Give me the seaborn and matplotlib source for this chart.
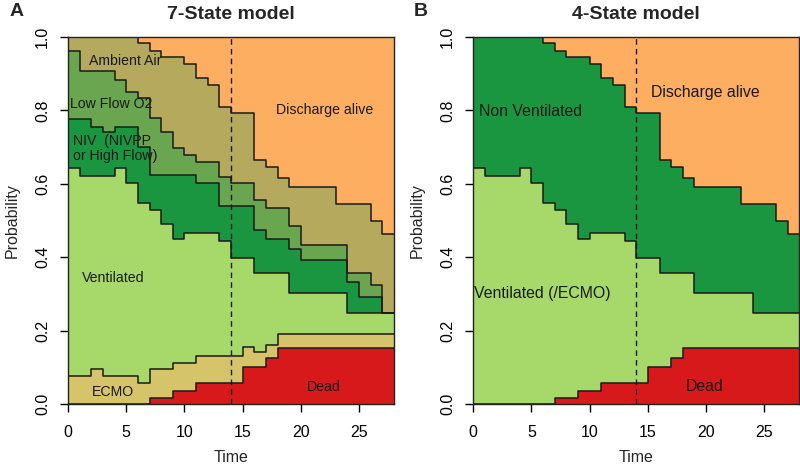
import numpy as np
import matplotlib
matplotlib.use("Agg")
import matplotlib.pyplot as plt
import seaborn as sns

# state occupation probabilities, one value per day 0..27 (step functions)
days = list(range(29))
dead = [0, 0, 0, 0, 0, 0, 0, .016, .016, .035, .035, .057, .057, .057, .057,
        .100, .100, .125, .152, .152, .152, .152, .152, .152, .152, .152, .152, .152]
ecmo = [.077, .077, .095, .077, .077, .077, .056, .079, .079, .078, .078, .075, .075, .075, .075,
        .056, .041, .036, .038, .038, .038, .038, .038, .038, .038, .038, .038, .038]
ventilated = [.565, .545, .527, .545, .565, .526, .492, .434, .395, .337, .354, .335, .333, .312, .266,
              .242, .216, .196, .167, .113, .113, .113, .113, .113, .058, .058, .058, .058]
niv = [.134, .154, .134, .118, .114, .153, .152, .095, .134, .174, .157, .134, .136, .096, .142,
       .142, .117, .093, .093, .118, .089, .089, .089, .089, .085, .044, .044, 0]
low_flow = [.187, .132, .152, .168, .127, .095, .133, .154, .116, .073, .054, .059, .059, .079, .061,
            .061, .082, .085, .085, .064, .041, .041, .041, .041, .023, .064, .032, 0]
ambient = [.037, .092, .092, .092, .117, .149, .151, .185, .206, .249, .248, .229, .209, .191, .191,
           .191, .108, .110, .081, .105, .157, .157, .157, .112, .189, .189, .176, .215]
discharge = [0, 0, 0, 0, 0, 0, .016, .037, .054, .054, .074, .111, .131, .190, .208,
             .208, .336, .355, .384, .410, .410, .410, .410, .455, .455, .455, .500, .537]

labels7 = ["Dead", "ECMO", "Ventilated", "NIV  (NIVPP\nor High Flow)", "Low Flow O2",
           "Ambient Air", "Discharge alive"]
labels4 = ["Dead", "Ventilated (/ECMO)", "Non Ventilated", "Discharge alive"]

col = {"dead": "#D7191C", "ecmo": "#D6C46A", "vent": "#A6D96A", "niv": "#1A9641",
       "low": "#69A64F", "amb": "#B4A95C", "dis": "#FDAE61"}

sns.set_theme(style="ticks")
plt.rcParams["font.family"] = ["Liberation Sans", "DejaVu Sans"]
plt.rcParams["xtick.direction"] = "out"
plt.rcParams["ytick.direction"] = "out"


def ext(v):
    v = np.asarray(v, dtype=float)
    return np.append(v, v[-1])


def stacked(ax, bands, colors):
    lower = np.zeros(len(days))
    for b, c in zip(bands, colors):
        upper = lower + ext(b)
        ax.fill_between(days, lower, upper, step="post", color=c, lw=0)
        lower = upper
    lower = np.zeros(len(days))
    for b in bands[:-1]:
        lower = lower + ext(b)
        sns.lineplot(x=days, y=lower, ax=ax, drawstyle="steps-post", color="#1a1a1a", lw=1.1)


def style(ax, title):
    ax.set_xlim(0, 28)
    ax.set_ylim(0, 1)
    ax.set_xticks([0, 5, 10, 15, 20, 25])
    ax.set_yticks([0, .2, .4, .6, .8, 1.0])
    ax.set_yticklabels(["0.0", "0.2", "0.4", "0.6", "0.8", "1.0"], rotation=90, va="center")
    ax.tick_params(length=6, width=1, labelsize=11.5, colors="black")
    ax.tick_params(axis="x", pad=9)
    ax.tick_params(axis="y", pad=7)
    for s in ax.spines.values():
        s.set_visible(True)
        s.set_color("#222222")
        s.set_linewidth(1)
    ax.axvline(14, ls=(0, (4, 3)), color="#1a1a1a", lw=1)
    ax.set_xlabel("Time", fontsize=11.5, labelpad=7)
    ax.set_ylabel("Probability", fontsize=11.5, labelpad=11)
    ax.set_title(title, fontsize=14, fontweight="bold", pad=13)


fig = plt.figure(figsize=(8, 4.7), dpi=100)
axA = fig.add_axes([0.085, 0.1404, 0.4075, 0.7809])
axB = fig.add_axes([0.5916, 0.1404, 0.4075, 0.7809])

stacked(axA, [dead, ecmo, ventilated, niv, low_flow, ambient, discharge],
        [col["dead"], col["ecmo"], col["vent"], col["niv"], col["low"], col["amb"], col["dis"]])
style(axA, "7-State model")
tc = "#1a1a1a"
axA.text(22, 0.047, labels7[0], fontsize=10.2, ha="center", va="center", color=tc)
axA.text(3.9, 0.034, labels7[1], fontsize=10.2, ha="center", va="center", color=tc)
axA.text(3.9, 0.344, labels7[2], fontsize=10.2, ha="center", va="center", color=tc)
axA.text(0.45, 0.697, labels7[3], fontsize=10.2, ha="left", va="center", color=tc, linespacing=1.1)
axA.text(3.7, 0.817, labels7[4], fontsize=10.2, ha="center", va="center", color=tc)
axA.text(4.9, 0.935, labels7[5], fontsize=10.2, ha="center", va="center", color=tc)
axA.text(22, 0.801, labels7[6], fontsize=10.2, ha="center", va="center", color=tc)

vent4 = [a + b for a, b in zip(ecmo, ventilated)]
nonvent4 = [a + b + c for a, b, c in zip(niv, low_flow, ambient)]
stacked(axB, [dead, vent4, nonvent4, discharge],
        [col["dead"], col["vent"], col["niv"], col["dis"]])
style(axB, "4-State model")
axB.text(19.9, 0.047, labels4[0], fontsize=11.4, ha="center", va="center", color=tc)
axB.text(5.9, 0.30, labels4[1], fontsize=11.4, ha="center", va="center", color=tc)
axB.text(4.9, 0.798, labels4[2], fontsize=11.4, ha="center", va="center", color=tc)
axB.text(19.9, 0.849, labels4[3], fontsize=11.4, ha="center", va="center", color=tc)

fig.text(0.012, 0.975, "A", fontsize=14, fontweight="bold", va="center", ha="left")
fig.text(0.517, 0.975, "B", fontsize=14, fontweight="bold", va="center", ha="left")

fig.savefig("out.png", dpi=100)
